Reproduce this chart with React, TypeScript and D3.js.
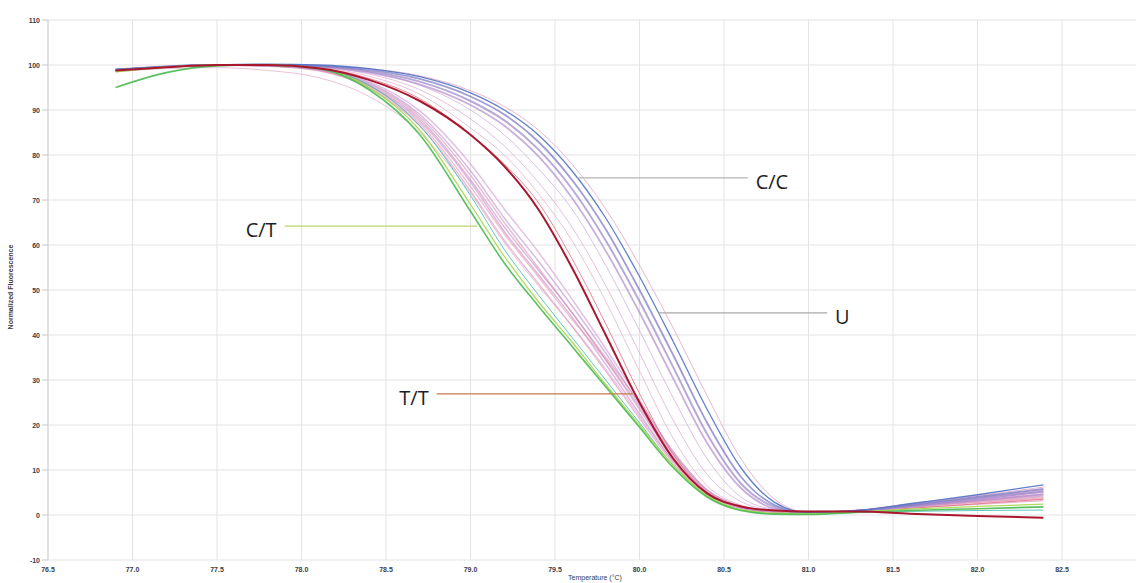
import { useEffect, useRef } from "react"
import * as d3 from "d3"

// temperature grid (°C) shared by every melt curve
const temps = [76.9, 77.2, 77.5, 77.8, 78.1, 78.4, 78.7, 79.0, 79.2, 79.4, 79.6, 79.8, 80.0, 80.2, 80.4, 80.6, 80.8, 81.0, 81.3, 81.6, 82.0, 82.39]

// C/T group (green)
const ctGreen = [95, 98.3, 99.8, 100, 99.2, 94.5, 84.5, 67.5, 56, 46.5, 37.5, 28.5, 19.5, 10.5, 4, 1, 0.2, 0.1, 0.6, 1, 1.4, 1.8]
const ctLime = [98.5, 99.5, 100, 100, 99.3, 95, 85.5, 69, 57.5, 47.5, 38.5, 29, 20, 11, 4.3, 1.2, 0.4, 0.3, 0.7, 1.3, 1.9, 2.4]
const ctTeal = [98.8, 99.6, 100, 99.9, 99.2, 95.5, 86.5, 71, 59, 49, 39.5, 30, 20.5, 11, 4.2, 1.1, 0.3, 0.2, 0.6, 0.8, 1, 1.1]

// T/T (red)
const ttRed = [98.8, 99.5, 100, 100, 99.3, 96.7, 92, 84.5, 77.5, 68, 55, 40, 25, 12.5, 4.8, 1.9, 1, 0.8, 0.8, 0.3, -0.2, -0.6]

// pink band next to C/T
const pinkA = [98.6, 99.5, 100, 99.8, 98.8, 94.8, 86.5, 72, 61, 51.5, 42, 32, 21.5, 11.5, 4.6, 1.5, 0.6, 0.5, 1, 2, 3, 4]
const pinkB = [98.8, 99.6, 100, 99.8, 98.9, 95.3, 87.5, 74, 63, 53.5, 44, 33.5, 22.5, 12, 4.8, 1.6, 0.7, 0.5, 1, 2.2, 3.4, 4.6]
const pinkC = [98.7, 99.5, 100, 99.7, 98.7, 95, 87, 73, 62.5, 53, 43.5, 34.5, 24, 13, 5.2, 1.7, 0.7, 0.5, 1, 1.8, 2.8, 3.6]
const pinkD = [98.9, 99.6, 100, 99.9, 99.1, 96, 89, 76.5, 66, 56.5, 46.5, 36, 24.5, 13.5, 5.5, 1.9, 0.8, 0.6, 1, 2.3, 3.8, 5.2]
const pinkE = [98.7, 99.5, 100, 99.8, 99, 95.8, 88.5, 75.5, 65, 55, 45, 35, 25, 14, 5.5, 1.8, 0.7, 0.5, 1, 1.6, 2.4, 3.2]
const pinkF = [98.9, 99.6, 100, 99.9, 99.2, 96.3, 89.8, 78, 68, 58.5, 48, 37, 25.5, 14, 5.6, 2, 0.8, 0.6, 1, 2.5, 4.1, 5.6]
const pinkG = [98.8, 99.6, 100, 99.8, 99, 95.5, 88, 74.5, 64, 54.5, 45, 34.5, 23.5, 12.5, 5, 1.7, 0.7, 0.5, 1, 2.1, 3.2, 4.3]
const pinkEarly = [98.5, 99.2, 99.4, 98.8, 97.2, 93, 85, 71.5, 60.5, 51, 42, 32.5, 22, 12, 4.8, 1.5, 0.6, 0.4, 0.9, 1.8, 2.8, 3.8]

// scattered curves between T/T and C/C
const midA = [99, 99.6, 100, 100, 99.4, 97, 92.5, 84.5, 78, 69.5, 57, 42.5, 27, 13.5, 5, 2, 1, 0.8, 1, 1.5, 2.5, 3.5]
const midB = [99, 99.6, 100, 100, 99.6, 98, 94.5, 88, 82, 74, 64, 51, 36, 21, 9, 3, 1, 0.5, 1, 2, 3.5, 5]
const midC = [99, 99.6, 100, 100, 99.7, 98.5, 95.5, 90, 84.5, 77, 68, 55.5, 41, 26, 12.5, 4, 1.2, 0.5, 1, 2, 3.8, 5.5]
const midD = [99, 99.7, 100, 100, 99.5, 97.5, 93.5, 86, 80, 71.5, 61, 47.5, 32, 17, 6.5, 2.2, 0.9, 0.5, 1, 1.7, 3, 4.2]

// C/C band (blue / purple)
const ccA = [99, 99.6, 100, 100.2, 100, 99.2, 97.4, 93.8, 90, 84.5, 76.5, 66, 53, 38.5, 23.5, 10.5, 2.8, 0.5, 1, 2.5, 4.5, 6.7]
const ccB = [99, 99.7, 100, 100, 99.8, 98.9, 96.9, 93, 89, 83, 74.5, 63.5, 50, 35.5, 20.5, 8.5, 2.2, 0.5, 1, 2.2, 4, 5.8]
const ccC = [98.8, 99.6, 100, 100, 99.7, 98.6, 96.3, 92, 87.7, 81.3, 72.5, 61, 47.5, 32.8, 18, 7, 1.8, 0.4, 1, 2, 3.6, 5.2]
const ccD = [98.9, 99.6, 100, 100, 99.6, 98.3, 95.7, 91.1, 86.5, 79.8, 70.5, 58.7, 45, 30.3, 16, 6, 1.4, 0.4, 0.9, 1.8, 3.2, 4.6]
const ccE = [99, 99.7, 100, 100, 99.8, 99.2, 97.6, 94.3, 90.8, 85.6, 78, 68, 55.5, 41.5, 26.5, 12.5, 3.5, 0.6, 1, 2.4, 4.3, 6.2]

const yTicks = [-10, 0, 10, 20, 30, 40, 50, 60, 70, 80, 90, 100, 110]
const xTicks = [76.5, 77.0, 77.5, 78.0, 78.5, 79.0, 79.5, 80.0, 80.5, 81.0, 81.5, 82.0, 82.5, 83.0]
const xLabels = ["76.5", "77.0", "77.5", "78.0", "78.5", "79.0", "79.5", "80.0", "80.5", "81.0", "81.5", "82.0", "82.5"]

// genotype call-outs: curve point (t0, v), line end t1, label
const callouts = [
    { label: "C/C", t0: 79.63, t1: 80.64, v: 74.9, color: "#b4b4b4", side: "right" },
    { label: "U", t0: 80.11, t1: 81.11, v: 44.9, color: "#a8a8a8", side: "right" },
    { label: "C/T", t0: 79.04, t1: 77.9, v: 64.2, color: "#bcd46c", side: "left" },
    { label: "T/T", t0: 79.96, t1: 78.8, v: 26.9, color: "#c47a52", side: "left" },
]

const curves = [
    { values: pinkEarly, color: "#e0a6c8", width: 1, opacity: 0.7 },
    { values: pinkA, color: "#d78cbc", width: 1.4, opacity: 0.6 },
    { values: pinkB, color: "#c989c9", width: 1.4, opacity: 0.6 },
    { values: pinkC, color: "#e39ab8", width: 1.4, opacity: 0.6 },
    { values: pinkD, color: "#b98ad0", width: 1.4, opacity: 0.6 },
    { values: pinkE, color: "#d68fb0", width: 1.4, opacity: 0.6 },
    { values: pinkF, color: "#cf94cf", width: 1.4, opacity: 0.6 },
    { values: pinkG, color: "#c78ac0", width: 1.4, opacity: 0.6 },
    { values: midA, color: "#e66a7e", width: 1, opacity: 0.8 },
    { values: midB, color: "#d9a0cc", width: 0.9, opacity: 0.75 },
    { values: midC, color: "#c8a0dc", width: 0.9, opacity: 0.75 },
    { values: midD, color: "#e2a4c2", width: 0.9, opacity: 0.75 },
    { values: ccE, color: "#e3a4c8", width: 1, opacity: 0.8 },
    { values: ccD, color: "#b48ccc", width: 1.8, opacity: 0.7 },
    { values: ccC, color: "#9a86c8", width: 2, opacity: 0.7 },
    { values: ccB, color: "#7f7cc6", width: 1.8, opacity: 0.75 },
    { values: ccA, color: "#4f72c4", width: 1.3, opacity: 0.9 },
    { values: ctTeal, color: "#3cb8b2", width: 1, opacity: 0.8 },
    { values: ctLime, color: "#a6d64c", width: 1.3, opacity: 0.9 },
    { values: ctGreen, color: "#52be56", width: 1.6, opacity: 0.95 },
    { values: ttRed, color: "#a8172d", width: 2, opacity: 1 },
]

export default function App() {
    const ref = useRef<SVGSVGElement | null>(null)

    useEffect(() => {
        document.body.style.margin = "0"
        const svg = d3.select(ref.current)
        svg.selectAll("*").remove()

        const width = 1136
        const height = 583
        const x = d3.scaleLinear().domain([76.5, 83.0]).range([48, 1146.5])
        const y = d3.scaleLinear().domain([-10, 110]).range([560, 20])

        svg.append("rect").attr("width", width).attr("height", height).attr("fill", "#fff")

        // grid
        const grid = svg.append("g")
        grid.selectAll("line.h")
            .data(yTicks)
            .join("line")
            .attr("x1", x(76.5))
            .attr("x2", width)
            .attr("y1", d => y(d))
            .attr("y2", d => y(d))
            .attr("stroke", "#e3e3e6")
            .attr("stroke-width", 1)
        grid.selectAll("line.v")
            .data(xTicks)
            .join("line")
            .attr("x1", d => x(d))
            .attr("x2", d => x(d))
            .attr("y1", y(110))
            .attr("y2", y(-10))
            .attr("stroke", "#e3e3e6")
            .attr("stroke-width", 1)

        svg.append("line")
            .attr("x1", x(76.5)).attr("x2", x(76.5))
            .attr("y1", y(110)).attr("y2", y(-10))
            .attr("stroke", "#cfcfd4")

        // tick labels
        svg.append("g")
            .selectAll("text")
            .data(yTicks)
            .join("text")
            .attr("x", 40)
            .attr("y", d => y(d) + 2.5)
            .attr("text-anchor", "end")
            .attr("font-family", "Liberation Sans, Arial, sans-serif")
            .attr("font-size", 7)
            .attr("font-weight", 700)
            .attr("fill", "#3b3b48")
            .text(d => String(d))
        svg.append("g")
            .selectAll("line")
            .data(yTicks)
            .join("line")
            .attr("x1", 42).attr("x2", x(76.5))
            .attr("y1", d => y(d)).attr("y2", d => y(d))
            .attr("stroke", "#c8c8cc")

        svg.append("g")
            .selectAll("text")
            .data(xLabels)
            .join("text")
            .attr("x", d => x(+d))
            .attr("y", 572)
            .attr("text-anchor", "middle")
            .attr("font-family", "Liberation Sans, Arial, sans-serif")
            .attr("font-size", 7)
            .attr("font-weight", 700)
            .attr("fill", "#3b3b48")
            .text(d => d)

        svg.append("text")
            .attr("x", 595)
            .attr("y", 580)
            .attr("text-anchor", "middle")
            .attr("font-family", "Liberation Sans, Arial, sans-serif")
            .attr("font-size", 7)
            .attr("fill", "#3b3b48")
            .text("Temperature (°C)")

        svg.append("text")
            .attr("transform", "translate(13,287) rotate(-90)")
            .attr("text-anchor", "middle")
            .attr("font-family", "Liberation Sans, Arial, sans-serif")
            .attr("font-size", 7)
            .attr("font-weight", 700)
            .attr("fill", "#3b3b48")
            .text("Normalized Fluorescence")

        // melt curves
        const line = d3.line<number>()
            .x((_, i) => x(temps[i]))
            .y(d => y(d))
            .curve(d3.curveMonotoneX)

        svg.append("g")
            .selectAll("path")
            .data(curves)
            .join("path")
            .attr("d", d => line(d.values))
            .attr("fill", "none")
            .attr("stroke", d => d.color)
            .attr("stroke-width", d => d.width)
            .attr("stroke-opacity", d => d.opacity)

        // call-outs
        const co = svg.append("g")
        co.selectAll("line")
            .data(callouts)
            .join("line")
            .attr("x1", d => x(d.t0))
            .attr("x2", d => x(d.t1))
            .attr("y1", d => y(d.v))
            .attr("y2", d => y(d.v))
            .attr("stroke", d => d.color)
            .attr("stroke-width", 1.2)
        co.selectAll("text")
            .data(callouts)
            .join("text")
            .attr("x", d => d.side === "right" ? x(d.t1) + 8 : x(d.t1) - 8)
            .attr("y", d => y(d.v) + 11)
            .attr("text-anchor", d => d.side === "right" ? "start" : "end")
            .attr("font-family", "Open Sans, Noto Sans, sans-serif")
            .attr("font-size", 20)
            .attr("fill", "#1e1e24")
            .text(d => d.label)
    }, [])

    return <svg ref={ref} width={1136} height={583} style={{ display: "block" }} />
}
